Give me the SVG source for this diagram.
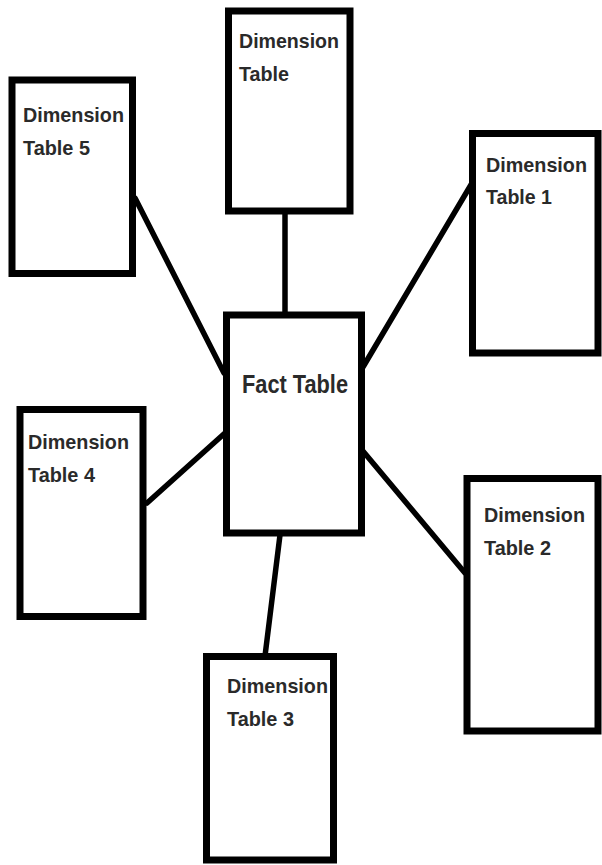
<svg xmlns="http://www.w3.org/2000/svg" width="602" height="865" viewBox="0 0 602 865">
<style>
.box{fill:#fff;stroke:#000;stroke-width:7}
.conn{stroke:#000;stroke-width:5.5;stroke-linecap:round;fill:none}
.lbl{font-family:"Liberation Sans",Arial,sans-serif;font-weight:bold;font-size:21px;fill:#2a2a2a}
.big{font-size:25px}
</style>
<rect width="602" height="865" fill="#fff"/>
<g id="connectors">
<line class="conn" x1="285" y1="211" x2="285" y2="315"/>
<line class="conn" x1="135" y1="198" x2="224" y2="373"/>
<line class="conn" x1="475" y1="178" x2="363" y2="367"/>
<line class="conn" x1="147" y1="503" x2="225" y2="433"/>
<line class="conn" x1="357" y1="444" x2="465" y2="573"/>
<line class="conn" x1="280" y1="535" x2="265" y2="656"/>
</g>
<g id="dim-top">
<rect class="box" x="228.5" y="11" width="121.5" height="200"/>
<text class="lbl" x="239" y="48" textLength="100" lengthAdjust="spacingAndGlyphs">Dimension</text>
<text class="lbl" x="239" y="81" textLength="50" lengthAdjust="spacingAndGlyphs">Table</text>
</g>
<g id="dim5">
<rect class="box" x="12" y="80" width="120.5" height="193.5"/>
<text class="lbl" x="23" y="122" textLength="101" lengthAdjust="spacingAndGlyphs">Dimension</text>
<text class="lbl" x="23" y="155" textLength="67" lengthAdjust="spacingAndGlyphs">Table 5</text>
</g>
<g id="dim1">
<rect class="box" x="472.5" y="133.5" width="125.5" height="219.5"/>
<text class="lbl" x="486" y="172" textLength="101" lengthAdjust="spacingAndGlyphs">Dimension</text>
<text class="lbl" x="486" y="204" textLength="66" lengthAdjust="spacingAndGlyphs">Table 1</text>
</g>
<g id="fact">
<rect class="box" x="226.5" y="315" width="135" height="218"/>
<text class="lbl big" x="242" y="393" textLength="106" lengthAdjust="spacingAndGlyphs">Fact Table</text>
</g>
<g id="dim4">
<rect class="box" x="20" y="409.5" width="123" height="207"/>
<text class="lbl" x="28" y="449" textLength="101" lengthAdjust="spacingAndGlyphs">Dimension</text>
<text class="lbl" x="28" y="482" textLength="67" lengthAdjust="spacingAndGlyphs">Table 4</text>
</g>
<g id="dim2">
<rect class="box" x="467" y="478.5" width="131" height="252.5"/>
<text class="lbl" x="484" y="522" textLength="101" lengthAdjust="spacingAndGlyphs">Dimension</text>
<text class="lbl" x="484" y="555" textLength="67" lengthAdjust="spacingAndGlyphs">Table 2</text>
</g>
<g id="dim3">
<rect class="box" x="206.5" y="656.5" width="127" height="203.5"/>
<text class="lbl" x="227" y="693" textLength="101" lengthAdjust="spacingAndGlyphs">Dimension</text>
<text class="lbl" x="227" y="726" textLength="67" lengthAdjust="spacingAndGlyphs">Table 3</text>
</g>
</svg>
